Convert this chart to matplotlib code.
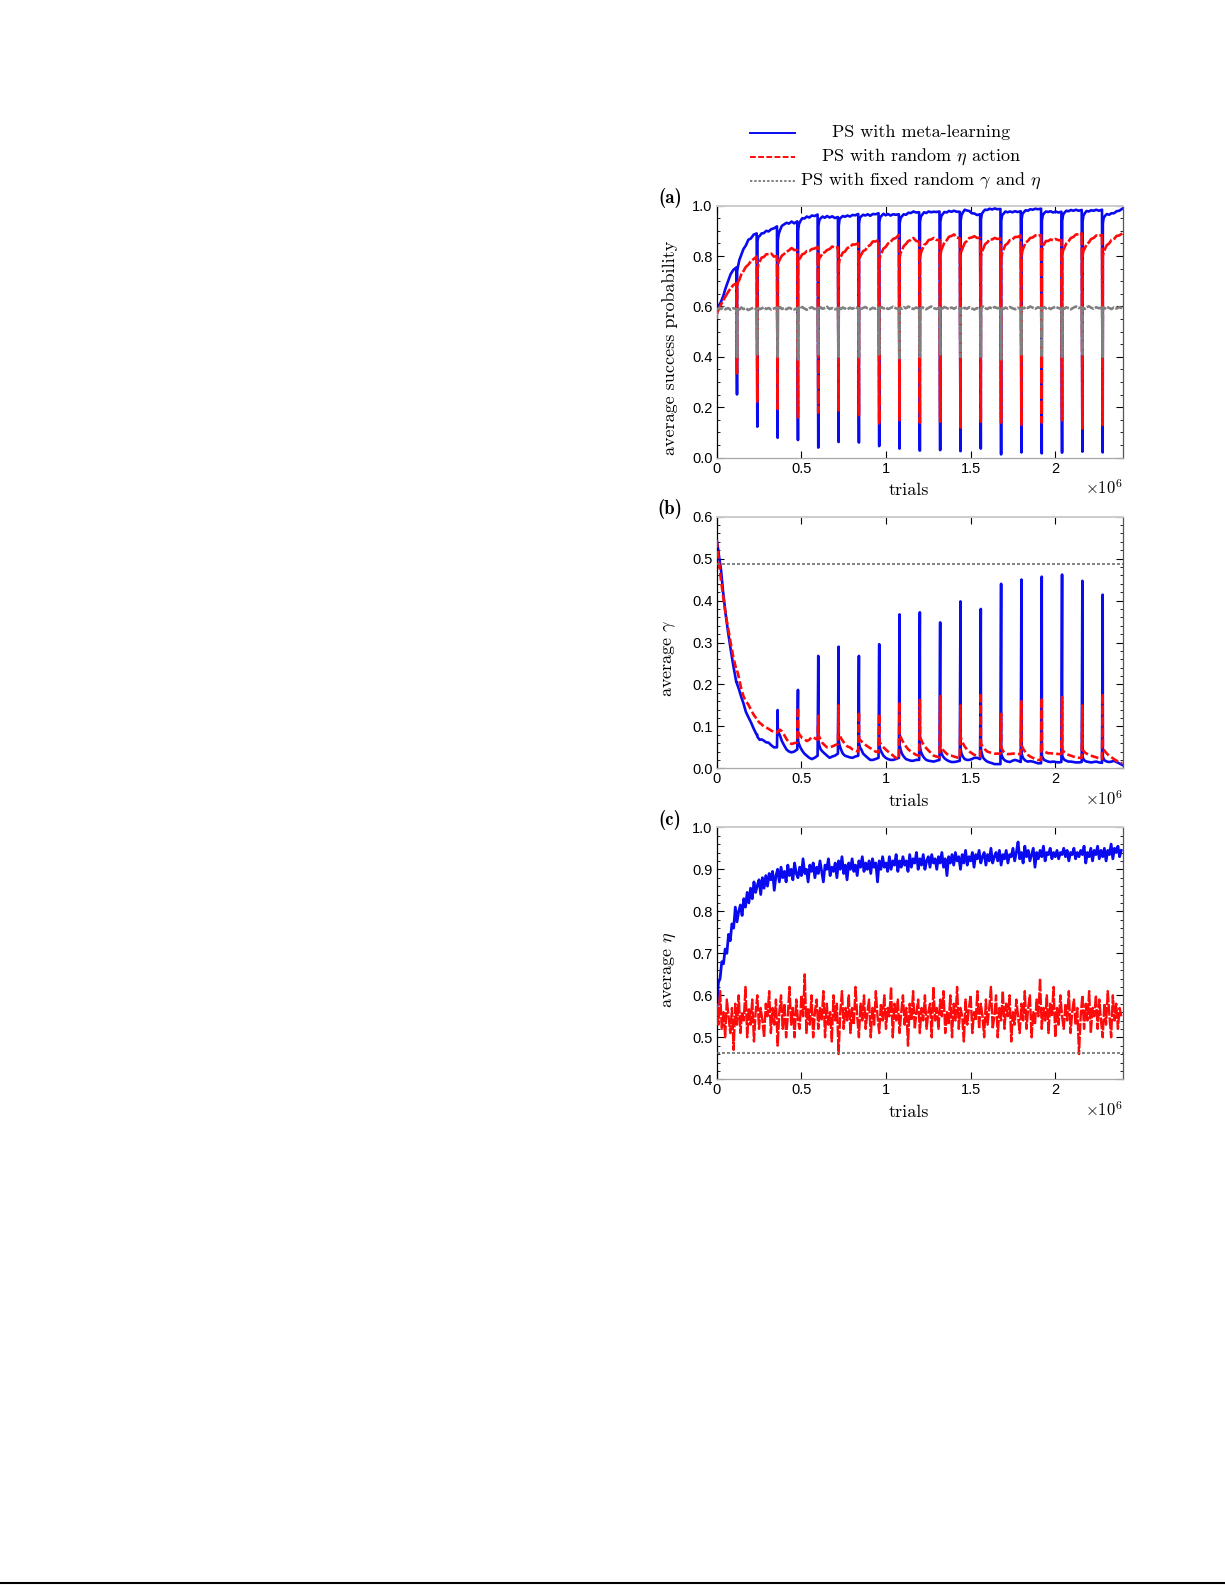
import numpy as np
import matplotlib.pyplot as plt
from matplotlib.lines import Line2D
from matplotlib.ticker import MultipleLocator

plt.rcParams['mathtext.fontset'] = 'cm'

# ---- data (trials in units of 1e6) ----
reset_period = 0.12
seg_offsets = [0.001, 0.006, 0.014, 0.025, 0.038, 0.052, 0.067, 0.082, 0.098, 0.116]

# (a) average success probability
a_start = 0.57
a_blue_seg = [
    [0.573, 0.588, 0.605, 0.618, 0.640, 0.672, 0.700, 0.728, 0.745, 0.755],
    [0.740, 0.760, 0.785, 0.805, 0.828, 0.842, 0.865, 0.870, 0.885, 0.890],
    [0.860, 0.877, 0.880, 0.890, 0.891, 0.900, 0.898, 0.907, 0.910, 0.918],
    [0.860, 0.887, 0.903, 0.920, 0.926, 0.932, 0.929, 0.937, 0.930, 0.938],
    [0.900, 0.927, 0.938, 0.950, 0.949, 0.957, 0.953, 0.961, 0.959, 0.965],
    [0.920, 0.942, 0.950, 0.957, 0.952, 0.959, 0.953, 0.958, 0.951, 0.955],
    [0.920, 0.947, 0.953, 0.959, 0.956, 0.961, 0.957, 0.963, 0.962, 0.967],
    [0.930, 0.952, 0.958, 0.964, 0.961, 0.966, 0.960, 0.967, 0.966, 0.970],
    [0.935, 0.954, 0.960, 0.968, 0.962, 0.967, 0.961, 0.966, 0.964, 0.966],
    [0.930, 0.950, 0.958, 0.966, 0.964, 0.972, 0.971, 0.977, 0.973, 0.974],
    [0.935, 0.957, 0.964, 0.974, 0.971, 0.977, 0.974, 0.976, 0.975, 0.977],
    [0.935, 0.957, 0.966, 0.975, 0.973, 0.979, 0.976, 0.980, 0.976, 0.976],
    [0.940, 0.962, 0.973, 0.984, 0.981, 0.979, 0.970, 0.969, 0.963, 0.966],
    [0.945, 0.967, 0.976, 0.984, 0.983, 0.988, 0.985, 0.989, 0.986, 0.987],
    [0.940, 0.962, 0.968, 0.977, 0.974, 0.977, 0.974, 0.978, 0.975, 0.978],
    [0.945, 0.967, 0.974, 0.982, 0.980, 0.986, 0.984, 0.988, 0.986, 0.988],
    [0.940, 0.962, 0.970, 0.977, 0.975, 0.978, 0.973, 0.977, 0.973, 0.976],
    [0.940, 0.964, 0.972, 0.980, 0.978, 0.983, 0.980, 0.984, 0.980, 0.983],
    [0.935, 0.960, 0.970, 0.979, 0.977, 0.982, 0.980, 0.984, 0.980, 0.984],
    [0.930, 0.952, 0.960, 0.967, 0.964, 0.970, 0.970, 0.978, 0.980, 0.988],
]
a_blue_min = [0.251, 0.123, 0.079, 0.070, 0.040, 0.062, 0.060, 0.046, 0.036,
              0.028, 0.030, 0.026, 0.036, 0.013, 0.021, 0.017, 0.020, 0.024, 0.021]

a_red_seg = [
    [0.572, 0.580, 0.592, 0.607, 0.624, 0.640, 0.657, 0.672, 0.685, 0.692],
    [0.680, 0.697, 0.706, 0.727, 0.740, 0.757, 0.766, 0.780, 0.788, 0.798],
    [0.745, 0.767, 0.778, 0.794, 0.796, 0.807, 0.808, 0.810, 0.798, 0.800],
    [0.760, 0.777, 0.788, 0.802, 0.808, 0.817, 0.823, 0.832, 0.824, 0.824],
    [0.770, 0.787, 0.793, 0.807, 0.810, 0.820, 0.820, 0.828, 0.830, 0.837],
    [0.775, 0.792, 0.798, 0.812, 0.815, 0.824, 0.828, 0.838, 0.833, 0.835],
    [0.765, 0.787, 0.798, 0.814, 0.818, 0.832, 0.836, 0.846, 0.846, 0.851],
    [0.780, 0.797, 0.806, 0.820, 0.824, 0.838, 0.844, 0.858, 0.858, 0.864],
    [0.785, 0.802, 0.813, 0.830, 0.836, 0.850, 0.856, 0.868, 0.872, 0.884],
    [0.795, 0.812, 0.823, 0.840, 0.848, 0.860, 0.864, 0.872, 0.860, 0.857],
    [0.795, 0.812, 0.826, 0.844, 0.850, 0.864, 0.866, 0.872, 0.864, 0.864],
    [0.800, 0.822, 0.836, 0.854, 0.862, 0.877, 0.880, 0.886, 0.874, 0.870],
    [0.800, 0.820, 0.833, 0.852, 0.860, 0.872, 0.874, 0.879, 0.872, 0.872],
    [0.800, 0.817, 0.828, 0.847, 0.854, 0.866, 0.866, 0.872, 0.868, 0.870],
    [0.790, 0.812, 0.826, 0.844, 0.850, 0.864, 0.866, 0.876, 0.876, 0.882],
    [0.800, 0.822, 0.836, 0.854, 0.860, 0.872, 0.874, 0.882, 0.880, 0.884],
    [0.820, 0.840, 0.848, 0.860, 0.860, 0.866, 0.863, 0.868, 0.863, 0.864],
    [0.805, 0.822, 0.833, 0.850, 0.858, 0.872, 0.876, 0.886, 0.886, 0.890],
    [0.800, 0.820, 0.830, 0.847, 0.854, 0.868, 0.872, 0.882, 0.880, 0.884],
    [0.800, 0.817, 0.828, 0.844, 0.850, 0.864, 0.868, 0.880, 0.882, 0.890],
]
a_red_min = [0.335, 0.222, 0.193, 0.160, 0.179, 0.183, 0.169, 0.136, 0.149,
             0.139, 0.143, 0.120, 0.143, 0.139, 0.130, 0.139, 0.149, 0.116, 0.130]

a_gray_start = 0.55
a_gray_seg = [
    [0.575, 0.588, 0.595, 0.590, 0.596, 0.589, 0.594, 0.587, 0.593, 0.590],
    [0.585, 0.592, 0.588, 0.596, 0.590, 0.593, 0.586, 0.591, 0.595, 0.589],
    [0.588, 0.594, 0.589, 0.592, 0.597, 0.590, 0.594, 0.588, 0.592, 0.596],
    [0.587, 0.593, 0.598, 0.590, 0.594, 0.589, 0.595, 0.591, 0.588, 0.594],
    [0.590, 0.596, 0.591, 0.598, 0.592, 0.587, 0.593, 0.597, 0.590, 0.595],
    [0.586, 0.592, 0.597, 0.591, 0.594, 0.599, 0.590, 0.594, 0.589, 0.593],
    [0.588, 0.594, 0.590, 0.596, 0.592, 0.589, 0.595, 0.591, 0.597, 0.592],
    [0.590, 0.595, 0.591, 0.594, 0.598, 0.592, 0.589, 0.595, 0.591, 0.596],
    [0.587, 0.593, 0.598, 0.592, 0.596, 0.590, 0.594, 0.599, 0.593, 0.590],
    [0.589, 0.595, 0.591, 0.597, 0.593, 0.600, 0.594, 0.590, 0.596, 0.592],
    [0.586, 0.592, 0.597, 0.593, 0.589, 0.595, 0.600, 0.594, 0.590, 0.596],
    [0.590, 0.596, 0.592, 0.598, 0.594, 0.590, 0.596, 0.591, 0.597, 0.593],
    [0.587, 0.593, 0.589, 0.595, 0.591, 0.597, 0.592, 0.588, 0.594, 0.590],
    [0.589, 0.595, 0.600, 0.594, 0.590, 0.596, 0.592, 0.598, 0.593, 0.596],
    [0.588, 0.594, 0.590, 0.596, 0.592, 0.598, 0.593, 0.589, 0.595, 0.591],
    [0.590, 0.596, 0.592, 0.598, 0.594, 0.600, 0.595, 0.591, 0.597, 0.593],
    [0.587, 0.593, 0.598, 0.592, 0.596, 0.590, 0.595, 0.599, 0.594, 0.590],
    [0.589, 0.595, 0.591, 0.597, 0.593, 0.589, 0.595, 0.600, 0.594, 0.597],
    [0.588, 0.594, 0.590, 0.596, 0.601, 0.595, 0.591, 0.597, 0.593, 0.596],
    [0.590, 0.596, 0.592, 0.598, 0.594, 0.590, 0.596, 0.592, 0.597, 0.594],
]
a_gray_min = [0.40, 0.41, 0.40, 0.39, 0.41, 0.40, 0.40, 0.41, 0.39, 0.40,
              0.41, 0.40, 0.40, 0.39, 0.41, 0.40, 0.40, 0.41, 0.40]

# (b) average gamma
b_start = 0.545
b_blue_seg = [
    [0.543, 0.530, 0.505, 0.475, 0.420, 0.370, 0.325, 0.285, 0.245, 0.205],
    [0.200, 0.195, 0.185, 0.170, 0.155, 0.135, 0.122, 0.110, 0.095, 0.080],
    [0.075, 0.072, 0.068, 0.069, 0.066, 0.062, 0.061, 0.055, 0.050, 0.050],
    [0.090, 0.085, 0.078, 0.065, 0.055, 0.045, 0.040, 0.038, 0.040, 0.045],
    [0.065, 0.058, 0.050, 0.042, 0.035, 0.030, 0.025, 0.022, 0.025, 0.030],
    [0.065, 0.055, 0.045, 0.040, 0.035, 0.030, 0.025, 0.028, 0.030, 0.035],
    [0.065, 0.055, 0.045, 0.035, 0.030, 0.028, 0.026, 0.025, 0.028, 0.030],
    [0.060, 0.050, 0.045, 0.035, 0.030, 0.025, 0.020, 0.020, 0.022, 0.025],
    [0.055, 0.045, 0.038, 0.030, 0.025, 0.022, 0.020, 0.020, 0.022, 0.025],
    [0.055, 0.045, 0.035, 0.028, 0.022, 0.020, 0.018, 0.018, 0.020, 0.020],
    [0.050, 0.040, 0.032, 0.025, 0.020, 0.018, 0.017, 0.016, 0.018, 0.020],
    [0.045, 0.038, 0.030, 0.024, 0.020, 0.017, 0.015, 0.015, 0.016, 0.018],
    [0.045, 0.035, 0.028, 0.022, 0.020, 0.020, 0.022, 0.025, 0.025, 0.022],
    [0.045, 0.035, 0.025, 0.020, 0.016, 0.014, 0.012, 0.010, 0.010, 0.010],
    [0.035, 0.028, 0.022, 0.018, 0.016, 0.015, 0.018, 0.020, 0.018, 0.015],
    [0.035, 0.028, 0.022, 0.018, 0.016, 0.017, 0.016, 0.014, 0.012, 0.012],
    [0.030, 0.025, 0.020, 0.018, 0.016, 0.015, 0.016, 0.015, 0.014, 0.015],
    [0.030, 0.025, 0.020, 0.018, 0.016, 0.016, 0.015, 0.014, 0.014, 0.015],
    [0.028, 0.022, 0.018, 0.016, 0.015, 0.014, 0.015, 0.016, 0.014, 0.013],
    [0.028, 0.022, 0.018, 0.016, 0.015, 0.016, 0.018, 0.015, 0.012, 0.008],
]
b_blue_peak = [0.205, 0.080, 0.139, 0.187, 0.268, 0.290, 0.268, 0.296, 0.367,
               0.372, 0.348, 0.398, 0.380, 0.440, 0.450, 0.457, 0.462, 0.447, 0.414]

b_red_seg = [
    [0.540, 0.520, 0.490, 0.450, 0.410, 0.370, 0.335, 0.300, 0.265, 0.235],
    [0.232, 0.225, 0.210, 0.190, 0.172, 0.160, 0.152, 0.140, 0.128, 0.118],
    [0.115, 0.112, 0.108, 0.105, 0.100, 0.097, 0.094, 0.090, 0.087, 0.085],
    [0.088, 0.090, 0.092, 0.088, 0.080, 0.070, 0.062, 0.058, 0.060, 0.062],
    [0.085, 0.082, 0.078, 0.072, 0.070, 0.065, 0.068, 0.075, 0.072, 0.068],
    [0.080, 0.075, 0.068, 0.060, 0.055, 0.050, 0.050, 0.052, 0.055, 0.058],
    [0.085, 0.080, 0.072, 0.065, 0.058, 0.052, 0.050, 0.045, 0.042, 0.040],
    [0.070, 0.068, 0.065, 0.060, 0.056, 0.052, 0.048, 0.044, 0.040, 0.038],
    [0.065, 0.060, 0.055, 0.050, 0.045, 0.040, 0.035, 0.030, 0.025, 0.022],
    [0.080, 0.075, 0.068, 0.060, 0.052, 0.045, 0.040, 0.036, 0.032, 0.030],
    [0.075, 0.070, 0.062, 0.055, 0.048, 0.042, 0.036, 0.030, 0.028, 0.026],
    [0.055, 0.050, 0.045, 0.040, 0.035, 0.030, 0.030, 0.028, 0.026, 0.024],
    [0.075, 0.068, 0.060, 0.052, 0.045, 0.040, 0.036, 0.032, 0.030, 0.028],
    [0.060, 0.055, 0.050, 0.045, 0.040, 0.038, 0.036, 0.035, 0.035, 0.035],
    [0.050, 0.045, 0.040, 0.036, 0.034, 0.034, 0.035, 0.035, 0.034, 0.034],
    [0.055, 0.050, 0.044, 0.038, 0.032, 0.028, 0.025, 0.022, 0.020, 0.020],
    [0.045, 0.042, 0.040, 0.038, 0.036, 0.036, 0.035, 0.035, 0.034, 0.034],
    [0.045, 0.042, 0.038, 0.035, 0.032, 0.030, 0.028, 0.026, 0.025, 0.025],
    [0.045, 0.042, 0.038, 0.035, 0.032, 0.030, 0.028, 0.026, 0.024, 0.022],
    [0.050, 0.045, 0.040, 0.035, 0.030, 0.026, 0.022, 0.018, 0.014, 0.012],
]
b_red_peak = [0.235, 0.118, 0.088, 0.145, 0.125, 0.150, 0.135, 0.130, 0.158,
              0.163, 0.172, 0.150, 0.180, 0.130, 0.160, 0.168, 0.170, 0.150, 0.178]

b_gray = 0.487

# (c) average eta, sampled every 0.01e6 trials
c_step = 0.01
c_blue = [
    0.56, 0.63, 0.64, 0.68, 0.675, 0.71, 0.70, 0.745, 0.73, 0.77,
    0.76, 0.81, 0.775, 0.80, 0.815, 0.79, 0.83, 0.81, 0.845, 0.82,
    0.855, 0.83, 0.87, 0.845, 0.862, 0.875, 0.84, 0.88, 0.855, 0.885,
    0.86, 0.89, 0.875, 0.895, 0.85, 0.885, 0.90, 0.87, 0.905, 0.88,
    0.895, 0.87, 0.91, 0.885, 0.90, 0.875, 0.915, 0.89, 0.88, 0.905,
    0.885, 0.925, 0.89, 0.90, 0.87, 0.91, 0.895, 0.915, 0.88, 0.905,
    0.89, 0.92, 0.895, 0.87, 0.91, 0.90, 0.925, 0.885, 0.905, 0.895,
    0.915, 0.88, 0.92, 0.90, 0.93, 0.89, 0.91, 0.875, 0.915, 0.90,
    0.925, 0.895, 0.91, 0.885, 0.92, 0.905, 0.93, 0.895, 0.915, 0.90,
    0.92, 0.89, 0.925, 0.905, 0.915, 0.87, 0.92, 0.90, 0.93, 0.905,
    0.915, 0.895, 0.93, 0.90, 0.92, 0.91, 0.935, 0.895, 0.92, 0.905,
    0.93, 0.91, 0.92, 0.895, 0.935, 0.905, 0.925, 0.915, 0.94, 0.90,
    0.925, 0.91, 0.935, 0.90, 0.92, 0.93, 0.905, 0.935, 0.915, 0.925,
    0.90, 0.93, 0.915, 0.94, 0.905, 0.925, 0.885, 0.93, 0.915, 0.935,
    0.91, 0.94, 0.92, 0.93, 0.90, 0.935, 0.915, 0.945, 0.91, 0.93,
    0.92, 0.94, 0.905, 0.935, 0.925, 0.945, 0.915, 0.93, 0.94, 0.91,
    0.935, 0.92, 0.95, 0.915, 0.93, 0.94, 0.92, 0.945, 0.91, 0.935,
    0.925, 0.945, 0.915, 0.935, 0.93, 0.95, 0.92, 0.94, 0.965, 0.925,
    0.94, 0.915, 0.955, 0.93, 0.945, 0.92, 0.935, 0.95, 0.905, 0.94,
    0.925, 0.945, 0.93, 0.955, 0.92, 0.94, 0.935, 0.95, 0.925, 0.94,
    0.93, 0.945, 0.925, 0.94, 0.935, 0.95, 0.93, 0.945, 0.92, 0.94,
    0.935, 0.95, 0.925, 0.94, 0.93, 0.945, 0.935, 0.955, 0.915, 0.94,
    0.93, 0.95, 0.92, 0.945, 0.935, 0.955, 0.925, 0.945, 0.93, 0.95,
    0.92, 0.945, 0.935, 0.96, 0.925, 0.95, 0.94, 0.955, 0.93, 0.945,
]
c_red = [
    0.58, 0.53, 0.61, 0.52, 0.56, 0.50, 0.59, 0.55, 0.51, 0.57,
    0.47, 0.58, 0.53, 0.60, 0.51, 0.56, 0.54, 0.62, 0.50, 0.57,
    0.53, 0.59, 0.49, 0.56, 0.60, 0.52, 0.57, 0.54, 0.50, 0.58,
    0.55, 0.61, 0.51, 0.57, 0.53, 0.59, 0.48, 0.56, 0.60, 0.52,
    0.58, 0.50, 0.55, 0.62, 0.53, 0.57, 0.50, 0.59, 0.54, 0.52,
    0.60, 0.55, 0.65, 0.51, 0.57, 0.53, 0.60, 0.50, 0.56, 0.59,
    0.52, 0.57, 0.54, 0.61, 0.50, 0.58, 0.53, 0.56, 0.49, 0.60,
    0.54, 0.58, 0.46, 0.56, 0.61, 0.52, 0.57, 0.54, 0.60, 0.51,
    0.57, 0.53, 0.62, 0.55, 0.50, 0.58, 0.54, 0.60, 0.52, 0.56,
    0.59, 0.50, 0.57, 0.53, 0.61, 0.55, 0.51, 0.58, 0.54, 0.60,
    0.52, 0.57, 0.55, 0.62, 0.50, 0.58, 0.54, 0.59, 0.51, 0.56,
    0.60, 0.53, 0.57, 0.48, 0.58, 0.54, 0.61, 0.52, 0.56, 0.59,
    0.51, 0.57, 0.54, 0.60, 0.52, 0.56, 0.58, 0.50, 0.62, 0.54,
    0.57, 0.52, 0.59, 0.55, 0.61, 0.51, 0.56, 0.53, 0.60, 0.50,
    0.58, 0.54, 0.62, 0.52, 0.57, 0.55, 0.49, 0.59, 0.53, 0.57,
    0.60, 0.51, 0.56, 0.54, 0.61, 0.52, 0.58, 0.55, 0.50, 0.59,
    0.53, 0.57, 0.62, 0.52, 0.55, 0.60, 0.50, 0.57, 0.54, 0.61,
    0.52, 0.58, 0.55, 0.60, 0.49, 0.56, 0.53, 0.59, 0.55, 0.51,
    0.58, 0.54, 0.61, 0.52, 0.57, 0.60, 0.50, 0.56, 0.53, 0.59,
    0.55, 0.64, 0.52, 0.57, 0.54, 0.60, 0.51, 0.58, 0.55, 0.62,
    0.50, 0.57, 0.53, 0.60, 0.55, 0.52, 0.58, 0.54, 0.61, 0.51,
    0.56, 0.59, 0.53, 0.57, 0.46, 0.55, 0.60, 0.52, 0.58, 0.54,
    0.61, 0.51, 0.57, 0.55, 0.60, 0.52, 0.59, 0.54, 0.50, 0.58,
    0.53, 0.61, 0.55, 0.50, 0.60, 0.54, 0.58, 0.52, 0.57, 0.55,
]
c_gray = 0.463

x_max = 2.4


def build(start, segs, jumps):
    # stitch per-period segments together, with the value at each reset
    xs, ys = [0.0], [start]
    for k, vals in enumerate(segs):
        s = k * reset_period
        if k > 0:
            xs.append(s)
            ys.append(jumps[k - 1])
        xs += [s + o for o in seg_offsets]
        ys += vals
    return np.array(xs) * 1e6, np.array(ys)


BLUE = '#0a0af0'
RED = '#ff0a0a'
GRAY = '#808080'
red_dash = (0, (3.0, 1.2))
gray_dot = (0, (1.2, 1.0))

fig = plt.figure(figsize=(12.25, 15.85), dpi=100)
W = 1225.0
H = 1585.0


def make_axes(top_px, bot_px):
    return fig.add_axes([716.7 / W, 1 - bot_px / H, (1123 - 716.7) / W, (bot_px - top_px) / H])


axa = make_axes(205.7, 457.7)
axb = make_axes(516.7, 768.3)
axc = make_axes(827.3, 1079.3)

# panel (a)
x, y = build(a_start, a_blue_seg, a_blue_min)
axa.plot(x, y, color=BLUE, lw=1.9, zorder=2)
x, y = build(a_start, a_red_seg, a_red_min)
axa.plot(x, y, color=RED, lw=1.9, ls=(0, (5.0, 0.8)), zorder=3)
x, y = build(a_gray_start, a_gray_seg, a_gray_min)
axa.plot(x, y, color=GRAY, lw=1.9, ls=(0, (3.0, 0.5)), zorder=4)

# panel (b)
x, y = build(b_start, b_blue_seg, b_blue_peak)
axb.plot(x, y, color=BLUE, lw=1.9, zorder=2)
x, y = build(b_start, b_red_seg, b_red_peak)
axb.plot(x, y, color=RED, lw=1.9, ls=red_dash, zorder=3)
axb.plot([0, x_max * 1e6], [b_gray, b_gray], color='#6e6e6e', lw=1.2, ls=(0, (1.8, 1.2)), zorder=4)

# panel (c)
xc = np.arange(len(c_blue)) * c_step * 1e6
axc.plot(xc, c_blue, color=BLUE, lw=2.0, zorder=2)
axc.plot(xc, c_red, color=RED, lw=1.7, ls=(0, (5.0, 0.7)), zorder=3)
axc.plot([0, x_max * 1e6], [c_gray, c_gray], color='#6e6e6e', lw=1.2, ls=(0, (1.8, 1.2)), zorder=4)

tick_font = dict(family='Liberation Sans', size=10.5)
label_font = dict(family='cmr10', size=13)

panels = [
    (axa, (0, 1.0), 0.2, 0.05, 'average success probability', '(a)'),
    (axb, (0, 0.6), 0.1, 0.02, r'average $\gamma$', '(b)'),
    (axc, (0.4, 1.0), 0.1, 0.02, r'average $\eta$', '(c)'),
]
for ax, ylim, ymaj, ymin, ylab, tag in panels:
    ax.set_xlim(0, x_max * 1e6)
    ax.set_ylim(*ylim)
    ax.set_xticks([0, 0.5e6, 1e6, 1.5e6, 2e6])
    ax.set_xticklabels(['0', '0.5', '1', '1.5', '2'], fontdict=tick_font)
    yt = np.arange(ylim[0], ylim[1] + 1e-9, ymaj)
    ax.set_yticks(yt)
    ax.set_yticklabels(['%.1f' % v for v in yt], fontdict=tick_font)
    ax.yaxis.set_minor_locator(MultipleLocator(ymin))
    ax.tick_params(which='major', direction='in', top=True, right=True,
                   length=5, width=0.8, pad=3, colors='black')
    ax.tick_params(which='minor', direction='in', left=True, right=True,
                   length=2.5, width=0.6)
    ax.spines['left'].set_color('black')
    ax.spines['right'].set_color('#555555')
    ax.spines['top'].set_color('#cccccc')
    ax.spines['bottom'].set_color('#a8a8a8')
    ax.spines['top'].set_linewidth(1.4)
    for side in ['left', 'right', 'bottom']:
        ax.spines[side].set_linewidth(0.9)
    ax.text(0.473, -0.131, 'trials', transform=ax.transAxes, ha='center', va='center',
            **label_font)
    ax.text(1.0, -0.123, r'$\times10^{6}$', transform=ax.transAxes, ha='right', va='center',
            fontsize=12)
    ax.text(-0.115, 0.437, ylab, transform=ax.transAxes, ha='center', va='center',
            rotation=90, **label_font)
    ax.text(-0.115, 1.03, tag, transform=ax.transAxes, ha='center', va='center',
            family='cmb10', fontsize=13.5)

# legend drawn by hand: handle line on the left, centred text
legend_rows = [
    ('PS with meta-learning', BLUE, '-', 132.7),
    (r'PS with random $\eta$ action', RED, red_dash, 156.7),
    (r'PS with fixed random $\gamma$ and $\eta$', GRAY, gray_dot, 180.7),
]
for text, col, ls, ypx in legend_rows:
    yf = 1 - ypx / H
    fig.add_artist(Line2D([750 / W, 795 / W], [yf, yf], color=col, lw=1.4, ls=ls))
    fig.text(921 / W, yf, text, ha='center', va='center', family='cmr10', fontsize=13)

# rule at the bottom of the page
fig.add_artist(Line2D([0, 1], [1 - 1583 / H, 1 - 1583 / H], color='black', lw=1.5))

fig.savefig('out.png', dpi=100)
